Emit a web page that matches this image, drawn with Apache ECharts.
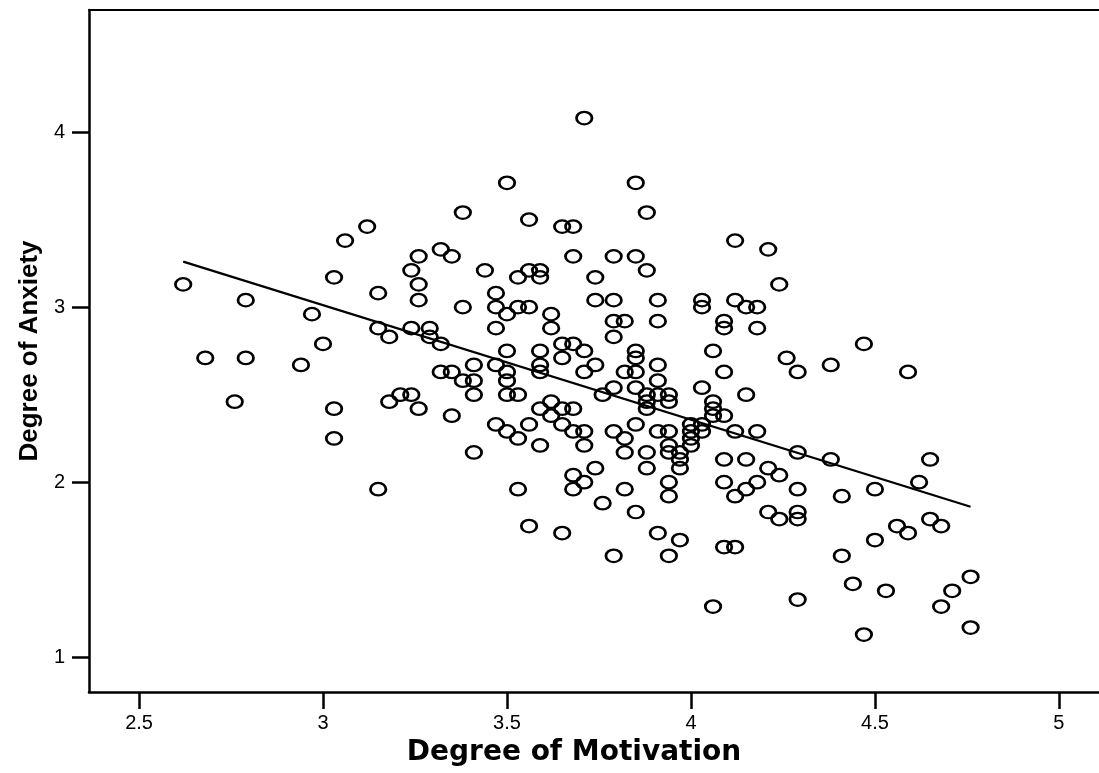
<!DOCTYPE html>
<html lang="en">
<head>
<meta charset="UTF-8">
<script src="https://cdn.jsdelivr.net/npm/echarts@6/dist/echarts.min.js"></script>
<title>Degree of Motivation / Degree of Anxiety</title>
<style>html,body{margin:0;padding:0;background:#fff;}</style>
</head>
<body>
<div id="main" style="width:1099px;height:773px;"></div>
<script>
// values, one array per axis (same order)
var motivation = [
    2.62, 2.68, 2.76, 2.79, 2.79, 2.94, 2.97, 3.00, 3.03, 3.03, 3.03, 3.06, 3.12, 3.15, 3.15, 3.15, 3.18, 3.18, 3.21, 3.24, 3.24, 3.24,
    3.26, 3.26, 3.26, 3.26, 3.29, 3.29, 3.32, 3.32, 3.32, 3.35, 3.35, 3.35, 3.38, 3.38, 3.38, 3.41, 3.41, 3.41, 3.41, 3.44,
    3.47, 3.47, 3.47, 3.47, 3.47, 3.50, 3.50, 3.50, 3.50, 3.50, 3.50, 3.50,
    3.53, 3.53, 3.53, 3.53, 3.53, 3.56, 3.56, 3.56, 3.56, 3.56,
    3.59, 3.59, 3.59, 3.59, 3.59, 3.59, 3.59, 3.62, 3.62, 3.62, 3.62,
    3.65, 3.65, 3.65, 3.65, 3.65, 3.65, 3.68, 3.68, 3.68, 3.68, 3.68, 3.68, 3.68,
    3.71, 3.71, 3.71, 3.71, 3.71, 3.71, 3.74, 3.74, 3.74, 3.74, 3.76, 3.76,
    3.79, 3.79, 3.79, 3.79, 3.79, 3.79, 3.79, 3.82, 3.82, 3.82, 3.82, 3.82,
    3.85, 3.85, 3.85, 3.85, 3.85, 3.85, 3.85, 3.85, 3.88, 3.88, 3.88, 3.88, 3.88, 3.88, 3.88,
    3.91, 3.91, 3.91, 3.91, 3.91, 3.91, 3.91, 3.94, 3.94, 3.94, 3.94, 3.94, 3.94, 3.94, 3.94,
    3.97, 3.97, 3.97, 3.97, 4.00, 4.00, 4.00, 4.00, 4.03, 4.03, 4.03, 4.03, 4.03,
    4.06, 4.06, 4.06, 4.06, 4.06, 4.09, 4.09, 4.09, 4.09, 4.09, 4.09, 4.09,
    4.12, 4.12, 4.12, 4.12, 4.12, 4.15, 4.15, 4.15, 4.15, 4.18, 4.18, 4.18, 4.18,
    4.21, 4.21, 4.21, 4.24, 4.24, 4.24, 4.26, 4.29, 4.29, 4.29, 4.29, 4.29, 4.29,
    4.38, 4.38, 4.41, 4.41, 4.44, 4.47, 4.47, 4.50, 4.50, 4.53, 4.56, 4.59, 4.59, 4.62, 4.65, 4.65, 4.68, 4.68, 4.71, 4.76, 4.76
];
var anxiety = [
    3.13, 2.71, 2.46, 3.04, 2.71, 2.67, 2.96, 2.79, 3.17, 2.42, 2.25, 3.38, 3.46, 3.08, 2.88, 1.96, 2.83, 2.46, 2.50, 2.50, 2.88, 3.21,
    3.29, 3.13, 3.04, 2.42, 2.88, 2.83, 3.33, 2.79, 2.63, 3.29, 2.63, 2.38, 3.54, 3.00, 2.58, 2.67, 2.58, 2.50, 2.17, 3.21,
    3.08, 3.00, 2.88, 2.67, 2.33, 3.71, 2.96, 2.75, 2.63, 2.58, 2.50, 2.29,
    3.17, 3.00, 2.50, 2.25, 1.96, 3.50, 3.21, 3.00, 2.33, 1.75,
    3.21, 3.17, 2.75, 2.67, 2.63, 2.42, 2.21, 2.96, 2.88, 2.46, 2.38,
    3.46, 2.79, 2.71, 2.42, 2.33, 1.71, 3.46, 3.29, 2.79, 2.42, 2.29, 2.04, 1.96,
    4.08, 2.75, 2.63, 2.29, 2.21, 2.00, 3.17, 3.04, 2.67, 2.08, 2.50, 1.88,
    3.29, 3.04, 2.92, 2.83, 2.54, 2.29, 1.58, 2.92, 2.63, 2.25, 2.17, 1.96,
    3.71, 3.29, 2.75, 2.71, 2.63, 2.54, 2.33, 1.83, 3.54, 3.21, 2.50, 2.46, 2.42, 2.17, 2.08,
    3.04, 2.92, 2.67, 2.58, 2.50, 2.29, 1.71, 2.50, 2.46, 2.29, 2.21, 2.17, 2.00, 1.92, 1.58,
    2.17, 2.13, 2.08, 1.67, 2.33, 2.29, 2.25, 2.21, 3.04, 3.00, 2.54, 2.33, 2.29,
    2.75, 2.46, 2.42, 2.38, 1.29, 2.92, 2.88, 2.63, 2.38, 2.13, 2.00, 1.63,
    3.38, 3.04, 2.29, 1.92, 1.63, 3.00, 2.50, 2.13, 1.96, 3.00, 2.88, 2.29, 2.00,
    3.33, 2.08, 1.83, 3.13, 2.04, 1.79, 2.71, 2.63, 2.17, 1.96, 1.83, 1.79, 1.33,
    2.67, 2.13, 1.92, 1.58, 1.42, 2.79, 1.13, 1.96, 1.67, 1.38, 1.75, 2.63, 1.71, 2.00, 2.13, 1.79, 1.75, 1.29, 1.38, 1.46, 1.17
];
// fit line ends as drawn
var fitX = [2.62, 4.76];
var fitY = [3.26, 1.86];
var xTicks = [2.5, 3, 3.5, 4, 4.5, 5];
var yTicks = [1, 2, 3, 4];

var points = motivation.map(function (m, i) { return [m, anxiety[i]]; });
var fitLine = fitX.map(function (x, i) { return [x, fitY[i]]; });

var font = '"Liberation Sans", Arial, sans-serif';
var myChart = echarts.init(document.getElementById('main'));

var option = {
    animation: false,
    backgroundColor: '#fff',
    grid: { left: 89, right: 0, top: 10, bottom: 81 },
    xAxis: [{
        type: 'value',
        min: 2.364,
        max: 5.109,
        name: 'Degree of Motivation',
        nameLocation: 'middle',
        nameGap: 47,
        nameTextStyle: {
            color: '#000', fontSize: 28, fontWeight: 'bold', fontFamily: '"DejaVu Sans", sans-serif',
            verticalAlign: 'top', padding: [0, 40, 0, 0]
        },
        axisLine: { show: true, onZero: false, lineStyle: { color: '#000', width: 2.5 } },
        axisTick: { show: true, length: 17, customValues: xTicks, lineStyle: { color: '#000', width: 2.5 } },
        axisLabel: { customValues: xTicks, color: '#000', fontSize: 20, fontFamily: font, margin: 21 },
        splitLine: { show: false }
    }, {
        // top frame line
        type: 'value',
        position: 'top',
        min: 2.364,
        max: 5.109,
        axisLine: { show: true, onZero: false, lineStyle: { color: '#000', width: 2 } },
        axisTick: { show: false },
        axisLabel: { show: false },
        splitLine: { show: false }
    }],
    yAxis: {
        type: 'value',
        min: 0.802,
        max: 4.697,
        name: 'Degree of Anxiety',
        nameLocation: 'middle',
        nameGap: 46,
        nameTextStyle: { color: '#000', fontSize: 26, fontWeight: 'bold', fontFamily: font },
        axisLine: { show: true, onZero: false, lineStyle: { color: '#000', width: 2.5 } },
        axisTick: { show: true, length: 17, customValues: yTicks, lineStyle: { color: '#000', width: 2.5 } },
        axisLabel: { customValues: yTicks, color: '#000', fontSize: 20, fontFamily: font, margin: 24 },
        splitLine: { show: false }
    },
    series: [{
        type: 'scatter',
        data: points,
        symbol: 'circle',
        symbolSize: [15.5, 12.5],
        itemStyle: { color: 'rgba(0,0,0,0)', borderColor: '#000', borderWidth: 2.5, opacity: 1 },
        silent: true
    }, {
        type: 'line',
        data: fitLine,
        symbol: 'none',
        lineStyle: { color: '#000', width: 2.2 },
        silent: true
    }]
};
myChart.setOption(option);
</script>
</body>
</html>
